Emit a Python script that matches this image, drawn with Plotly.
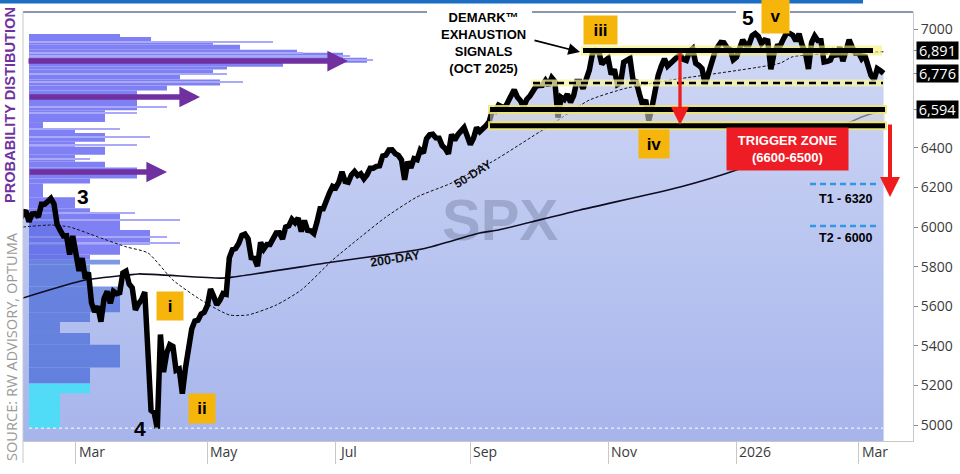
import plotly.graph_objects as go

# ---------------- DATA ----------------
price_dates = [
 "2025-02-04","2025-02-05","2025-02-06","2025-02-07","2025-02-10","2025-02-11","2025-02-12","2025-02-13","2025-02-14",
 "2025-02-18","2025-02-19","2025-02-20","2025-02-21","2025-02-24","2025-02-25","2025-02-26","2025-02-27","2025-02-28",
 "2025-03-03","2025-03-04","2025-03-05","2025-03-06","2025-03-07","2025-03-10","2025-03-11","2025-03-12","2025-03-13","2025-03-14",
 "2025-03-17","2025-03-18","2025-03-19","2025-03-20","2025-03-21","2025-03-24","2025-03-25","2025-03-26","2025-03-27","2025-03-28","2025-03-31",
 "2025-04-01","2025-04-02","2025-04-03","2025-04-04","2025-04-07","2025-04-08","2025-04-09","2025-04-10","2025-04-11","2025-04-14",
 "2025-04-15","2025-04-16","2025-04-17","2025-04-21","2025-04-22","2025-04-23","2025-04-24","2025-04-25","2025-04-28","2025-04-29","2025-04-30",
 "2025-05-01","2025-05-02","2025-05-05","2025-05-06","2025-05-07","2025-05-08","2025-05-09","2025-05-12","2025-05-13","2025-05-14",
 "2025-05-15","2025-05-16","2025-05-19","2025-05-20","2025-05-21","2025-05-22","2025-05-23","2025-05-27","2025-05-28","2025-05-29","2025-05-30",
 "2025-06-02","2025-06-03","2025-06-04","2025-06-05","2025-06-06","2025-06-09","2025-06-10","2025-06-11","2025-06-12","2025-06-13",
 "2025-06-16","2025-06-17","2025-06-18","2025-06-20","2025-06-23","2025-06-24","2025-06-25","2025-06-26","2025-06-27","2025-06-30",
 "2025-07-01","2025-07-02","2025-07-03","2025-07-07","2025-07-08","2025-07-09","2025-07-10","2025-07-11","2025-07-14","2025-07-15","2025-07-16",
 "2025-07-17","2025-07-18","2025-07-21","2025-07-22","2025-07-23","2025-07-24","2025-07-25","2025-07-28","2025-07-29","2025-07-30","2025-07-31",
 "2025-08-01","2025-08-04","2025-08-05","2025-08-06","2025-08-07","2025-08-08","2025-08-11","2025-08-12","2025-08-13","2025-08-14","2025-08-15",
 "2025-08-18","2025-08-19","2025-08-20","2025-08-21","2025-08-22","2025-08-25","2025-08-26","2025-08-27","2025-08-28","2025-08-29",
 "2025-09-02","2025-09-03","2025-09-04","2025-09-05","2025-09-08","2025-09-09","2025-09-10","2025-09-11","2025-09-12","2025-09-15","2025-09-16",
 "2025-09-17","2025-09-18","2025-09-19","2025-09-22","2025-09-23","2025-09-24","2025-09-25","2025-09-26","2025-09-29","2025-09-30",
 "2025-10-01","2025-10-02","2025-10-03","2025-10-06","2025-10-07","2025-10-08","2025-10-09","2025-10-10","2025-10-13","2025-10-14","2025-10-15",
 "2025-10-16","2025-10-17","2025-10-20","2025-10-21","2025-10-22","2025-10-23","2025-10-24","2025-10-27","2025-10-28","2025-10-29","2025-10-30","2025-10-31",
 "2025-11-03","2025-11-04","2025-11-05","2025-11-06","2025-11-07","2025-11-10","2025-11-11","2025-11-12","2025-11-13","2025-11-14",
 "2025-11-17","2025-11-18","2025-11-19","2025-11-20","2025-11-21","2025-11-24","2025-11-25","2025-11-26","2025-11-28",
 "2025-12-01","2025-12-02","2025-12-03","2025-12-04","2025-12-05","2025-12-08","2025-12-09","2025-12-10","2025-12-11","2025-12-12","2025-12-15",
 "2025-12-16","2025-12-17","2025-12-18","2025-12-19","2025-12-22","2025-12-23","2025-12-24","2025-12-26","2025-12-29","2025-12-30","2025-12-31",
 "2026-01-02","2026-01-05","2026-01-06","2026-01-07","2026-01-08","2026-01-09","2026-01-12","2026-01-13","2026-01-14","2026-01-15",
 "2026-01-16","2026-01-20","2026-01-21","2026-01-22","2026-01-23","2026-01-26","2026-01-27","2026-01-28","2026-01-29","2026-01-30",
 "2026-02-02","2026-02-03","2026-02-04","2026-02-05","2026-02-06","2026-02-09","2026-02-10","2026-02-11","2026-02-12","2026-02-13",
 "2026-02-17","2026-02-18","2026-02-19","2026-02-20","2026-02-23","2026-02-24","2026-02-25","2026-02-26","2026-02-27",
 "2026-03-02","2026-03-03","2026-03-04","2026-03-05","2026-03-06","2026-03-09","2026-03-10","2026-03-11","2026-03-12",
]
price_close = [
 6037,6061,6084,6026,6066,6068,6051,6115,6115,
 6129,6144,6117,6013,5983,5955,5956,5861,5955,
 5850,5778,5843,5739,5770,5615,5572,5599,5522,5639,
 5675,5615,5675,5663,5668,5768,5777,5712,5693,5581,5612,
 5633,5671,5397,5074,5062,4982,5457,5268,5363,5406,
 5397,5276,5283,5158,5288,5376,5485,5525,5529,5561,5569,
 5604,5687,5650,5607,5631,5664,5660,5844,5886,5892,
 5917,5958,5964,5941,5845,5842,5802,5922,5889,5912,5912,
 5936,5970,5971,5939,6000,6006,6039,6022,6045,5977,
 6033,5983,5981,5968,6025,6092,6092,6141,6173,6205,
 6198,6227,6279,6230,6226,6263,6280,6260,6269,6244,6264,
 6297,6297,6306,6309,6359,6363,6389,6390,6371,6362,6339,
 6238,6330,6299,6345,6340,6389,6374,6446,6466,6469,6450,
 6449,6411,6396,6370,6467,6439,6466,6481,6502,6460,
 6416,6448,6502,6482,6495,6512,6532,6587,6584,6615,6607,
 6600,6632,6664,6693,6657,6638,6605,6644,6661,6688,
 6711,6715,6716,6740,6715,6754,6735,6553,6655,6644,6671,
 6630,6664,6735,6735,6699,6738,6792,6875,6891,6890,6822,6840,
 6852,6771,6796,6720,6729,6832,6846,6851,6738,6734,
 6672,6617,6642,6538,6603,6705,6766,6813,6849,
 6813,6829,6850,6857,6870,6847,6841,6887,6901,6827,6816,
 6800,6721,6775,6835,6878,6910,6932,6930,6905,6896,6845,
 6858,6902,6945,6921,6921,6966,6977,6963,6927,6944,
 6940,6797,6876,6913,6916,6950,6979,6978,6969,6939,
 6976,6918,6883,6798,6932,6965,6942,6941,6833,6836,
 6843,6881,6862,6909,6838,6890,6946,6908,6879,
 6881,6850,6868,6810,6765,6745,6800,6790,6776,
]

ma50_dates = ["2025-02-05","2025-02-19","2025-02-27","2025-03-12","2025-03-25","2025-04-03","2025-04-15","2025-04-29",
              "2025-05-12","2025-05-20","2025-06-03","2025-06-13","2025-06-30","2025-07-14","2025-07-24","2025-08-07",
              "2025-08-22","2025-09-05","2025-09-11","2025-10-10","2025-10-24","2025-11-11","2025-12-02","2026-01-23",
              "2026-01-29","2026-03-12"]
ma50_vals = [6000,6010,6000,5950,5900,5869,5732,5631,5556,5556,5606,5682,5833,5950,6050,6152,
             6222,6300,6330,6540,6641,6702,6742,6828,6860,6885]

ma200_dates = ["2025-02-05","2025-03-06","2025-03-26","2025-03-31","2025-05-07","2025-05-13","2025-06-30","2025-08-11",
               "2025-09-05","2025-09-15","2025-10-21","2025-12-05","2026-01-02","2026-02-06","2026-03-03","2026-03-12"]
ma200_vals = [5641,5732,5758,5763,5742,5747,5823,5890,5970,5985,6086,6202,6288,6439,6556,6591]

# probability distribution (price-level histogram)
hist_top = [6975,6960,6935,6920,6895,6880,6855,6830,6810,6795,6770,6745,6715,6690,6590,6530,6500,6475,6430,6405,
            6365,6330,6300,6245,6220,6150,6095,6070,5985,5910,5860,5835,5810,5700,5570,5520,5465,5405,5290]
hist_bottom = [6960,6935,6920,6895,6880,6855,6830,6810,6795,6770,6745,6715,6690,6590,6530,6500,6475,6430,6405,6365,
               6330,6300,6245,6220,6150,6095,6070,5985,5910,5860,5835,5810,5700,5570,5520,5465,5405,5290,5210]
hist_len = [91,122,184,211,268,314,338,254,198,184,151,191,138,108,76,14,46,76,46,76,
            46,76,108,61,14,46,61,91,121,91,61,91,61,91,61,31,61,91,61]
hist_zone = ["U"] * 31 + ["M"] * 8
tail_top = [5210, 5160]
tail_bottom = [5160, 4985]
tail_len = [61, 31]
fine_price = [6934,6877,6864,6843,6773,6732,6606,6575,6495,6455,6415,6345,6280,6071,6035,5950,5920]
fine_len = [244,274,321,344,198,214,138,108,91,121,108,61,121,106,151,138,151]

tick_dates = ["2025-03-03","2025-05-01","2025-07-01","2025-09-02","2025-11-03","2026-01-02","2026-03-02"]
tick_text = ["Mar","May","Jul","Sep","Nov","2026","Mar"]
holidays = ["2025-02-17","2025-04-18","2025-05-26","2025-06-19","2025-07-04","2025-09-01","2025-11-27",
            "2025-12-25","2026-01-01","2026-01-19","2026-02-16"]
y_ticks = [5000,5200,5400,5600,5800,6000,6200,6400,7000]
level_boxes = [6891, 6776, 6594]
resistance = 6891
mid_level = 6727
zone_hi = 6594
zone_lo = 6512
low_mark = 4984
t1_line = 6217
t2_line = 6005

# ---------------- LAYOUT HELPERS ----------------
W, H = 960, 474
L, R, T, B = 23, 47, 12, 33
PW, PH = W - L - R, H - T - B


def px(x):
    return (x - L) / PW


def py(y):
    return (H - B - y) / PH


fig = go.Figure()

zone_colors = {"U": "#8080f5", "M": "#7d97e4"}
fig.add_trace(go.Bar(
    orientation="h", x=hist_len,
    y=[(a + b) / 2 for a, b in zip(hist_top, hist_bottom)],
    width=[a - b for a, b in zip(hist_top, hist_bottom)],
    marker=dict(color=[zone_colors[z] for z in hist_zone], line=dict(width=0)),
    xaxis="x", yaxis="y", hoverinfo="skip"))
fig.add_trace(go.Bar(
    orientation="h", x=fine_len, y=fine_price, width=6,
    marker=dict(color="#a9a9f7", line=dict(width=0)),
    xaxis="x", yaxis="y", hoverinfo="skip"))

# price area (translucent gradient above the histogram)
fig.add_trace(go.Scatter(
    x=price_dates, y=price_close, xaxis="x2", yaxis="y", mode="lines",
    line=dict(width=0, color="rgba(0,0,0,0)"), fill="tozeroy",
    fillgradient=dict(type="vertical",
                      colorscale=[[0, "rgba(70,100,215,0.48)"], [1, "rgba(70,100,215,0.25)"]],
                      start=4919, stop=7000),
    hoverinfo="skip"))

fig.add_trace(go.Scatter(
    x=["2025-09-15 12:00"], y=[6010], xaxis="x2", yaxis="y", mode="text", text=["SPX"],
    textfont=dict(size=58, color="rgba(105,115,150,0.38)", family="Liberation Sans", weight="bold"),
    textposition="middle center", hoverinfo="skip"))

fig.add_trace(go.Scatter(
    x=ma200_dates, y=ma200_vals, xaxis="x2", yaxis="y", mode="lines",
    line=dict(color="#0d0d1f", width=1.6, shape="spline", smoothing=0.6), hoverinfo="skip"))
fig.add_trace(go.Scatter(
    x=ma50_dates, y=ma50_vals, xaxis="x2", yaxis="y", mode="lines",
    line=dict(color="#111111", width=1, dash="3px,2px", shape="spline", smoothing=0.6), hoverinfo="skip"))
fig.add_trace(go.Scatter(
    x=price_dates, y=price_close, xaxis="x2", yaxis="y", mode="lines",
    line=dict(color="#000000", width=5.5), hoverinfo="skip"))

fig.add_trace(go.Bar(
    orientation="h", x=tail_len,
    y=[(a + b) / 2 for a, b in zip(tail_top, tail_bottom)],
    width=[a - b for a, b in zip(tail_top, tail_bottom)],
    marker=dict(color="#50dcf7", line=dict(width=0)),
    xaxis="x3", yaxis="y", hoverinfo="skip"))

# ---------------- SHAPES ----------------
shapes = []
shapes.append(dict(type="rect", xref="paper", yref="paper", x0=px(0), x1=px(863), y0=py(3.5), y1=py(0),
                   fillcolor="#1b6ec2", line=dict(width=0), layer="above"))
for a, b in [(23, 427), (532, 736), (790, 913)]:
    shapes.append(dict(type="line", xref="paper", yref="paper", x0=px(a), x1=px(b), y0=1, y1=1,
                       line=dict(color="#1e2a55", width=1), layer="above"))
shapes.append(dict(type="line", xref="paper", yref="paper", x0=0, x1=0, y0=py(463), y1=1,
                   line=dict(color="#c8c8c8", width=1), layer="above"))
shapes.append(dict(type="line", xref="paper", yref="y", x0=px(29), x1=px(883), y0=low_mark, y1=low_mark,
                   line=dict(color="white", width=1, dash="dot"), layer="above"))
shapes.append(dict(type="rect", xref="paper", yref="y", x0=px(490), x1=px(885), y0=zone_lo, y1=zone_hi,
                   fillcolor="rgba(215,215,212,0.55)", line=dict(width=0), layer="above"))
for lv in (zone_hi, zone_lo):
    shapes.append(dict(type="line", xref="paper", yref="y", x0=px(488), x1=px(887), y0=lv, y1=lv,
                       line=dict(color="rgba(240,232,110,0.85)", width=9), layer="above"))
    shapes.append(dict(type="line", xref="paper", yref="y", x0=px(490), x1=px(885), y0=lv, y1=lv,
                       line=dict(color="black", width=5), layer="above"))
shapes.append(dict(type="line", xref="paper", yref="y", x0=px(531), x1=px(884), y0=mid_level, y1=mid_level,
                   line=dict(color="rgba(250,245,160,0.75)", width=7), layer="above"))
shapes.append(dict(type="line", xref="paper", yref="y", x0=px(533), x1=px(883), y0=mid_level, y1=mid_level,
                   line=dict(color="black", width=2.5, dash="7px,5px"), layer="above"))
shapes.append(dict(type="line", xref="paper", yref="y", x0=px(581), x1=px(882), y0=resistance, y1=resistance,
                   line=dict(color="rgba(245,240,110,0.6)", width=10), layer="above"))
shapes.append(dict(type="line", xref="paper", yref="y", x0=px(583), x1=px(873), y0=resistance, y1=resistance,
                   line=dict(color="black", width=5), layer="above"))
for lv in (t1_line, t2_line):
    shapes.append(dict(type="line", xref="paper", yref="y", x0=px(810), x1=px(878), y0=lv, y1=lv,
                       line=dict(color="#3296e6", width=2.5, dash="6px,4px"), layer="above"))

# ---------------- ANNOTATIONS ----------------
ann = []
BOLD = "Liberation Sans"


def label(cx, cy, text, **kw):
    d = dict(xref="paper", yref="paper", x=px(cx), y=py(cy), text=text, showarrow=False,
             xanchor="center", yanchor="middle")
    d.update(kw)
    ann.append(d)


for d, t in zip(tick_dates, tick_text):
    ann.append(dict(xref="x2", yref="paper", x=d, y=py(452), text=t, showarrow=False, xanchor="left",
                    yanchor="middle", xshift=1, font=dict(family="Open Sans", size=14, color="#3a3a3a")))
for v in level_boxes:
    ann.append(dict(xref="paper", yref="y", x=px(916), y=v, text=f"{v:,}", showarrow=False, xanchor="left",
                    yanchor="middle", bgcolor="black", width=41, height=17, borderpad=0,
                    font=dict(family="Open Sans", size=14.5, color="white")))

label(10, 105, "<b>PROBABILITY DISTIBUTION</b>", textangle=-90,
      font=dict(family=BOLD, size=14.6, color="#7030a0"))
label(11, 347, "SOURCE: RW ADVISORY, OPTUMA", textangle=-90,
      font=dict(family="Open Sans", size=14.6, color="#9a9a9a"))

# purple arrows
for tail, tip, lv in [(27, 348, 6838), (28, 200, 6657), (28, 167, 6278)]:
    ann.append(dict(xref="paper", yref="y", x=px(tip), y=lv, ax=-(tip - tail), ay=0, text="",
                    showarrow=True, arrowhead=2, arrowsize=0.75, arrowwidth=5.5, arrowcolor="#7030a0",
                    standoff=0))
# red arrows
ann.append(dict(xref="paper", yref="paper", x=px(680), y=py(125), ax=0, ay=-73, text="", showarrow=True,
                arrowhead=2, arrowsize=1.1, arrowwidth=3.3, arrowcolor="#ee1c1c", standoff=0))
ann.append(dict(xref="paper", yref="paper", x=px(890), y=py(197), ax=0, ay=-74, text="", showarrow=True,
                arrowhead=2, arrowsize=1.0, arrowwidth=4, arrowcolor="#ee1c1c", standoff=0))
# DeMark text + arrow
label(483, 43, "<b>DEMARK™<br>EXHAUSTION<br>SIGNALS<br>(OCT 2025)</b>", align="center", bgcolor="white",
      borderpad=2, font=dict(family=BOLD, size=13, color="black"))
ann.append(dict(xref="paper", yref="paper", x=px(580), y=py(52), ax=-47, ay=-12, text="", showarrow=True,
                arrowhead=2, arrowsize=1.3, arrowwidth=1.8, arrowcolor="black", standoff=0))
# wave labels (orange boxes)
for txt, cx, cy, w, h in [("iii", 600, 30, 33, 28), ("v", 775.5, 16.5, 27, 33), ("iv", 654, 144, 30, 28),
                          ("i", 170, 306, 26, 28), ("ii", 202, 408.5, 26, 29)]:
    label(cx, cy, f"<b>{txt}</b>", bgcolor="#f5b50a", width=w, height=h, borderpad=0,
          font=dict(family=BOLD, size=17, color="black"))
for txt, cx, cy in [("3", 83, 196), ("4", 140, 428), ("5", 748, 18)]:
    label(cx, cy, f"<b>{txt}</b>", font=dict(family=BOLD, size=21, color="black"))
label(787.5, 149, "<b>TRIGGER ZONE<br>(6600-6500)</b>", bgcolor="#ee1c24", width=121, height=42, borderpad=0,
      font=dict(family=BOLD, size=13, color="white"))
label(846, 199, "<b>T1 - 6320</b>", font=dict(family=BOLD, size=12.5, color="black"))
label(846, 238, "<b>T2 - 6000</b>", font=dict(family=BOLD, size=12.5, color="black"))
label(473, 174, "<b>50-DAY</b>", textangle=-32, font=dict(family=BOLD, size=12, color="#111"))
label(395, 259, "<b>200-DAY</b>", textangle=-9, font=dict(family=BOLD, size=12.5, color="#111"))

fig.update_layout(
    width=W, height=H, margin=dict(l=L, r=R, t=T, b=B, autoexpand=False),
    paper_bgcolor="white", plot_bgcolor="white", showlegend=False, barmode="overlay",
    xaxis=dict(range=[-6, 884], visible=False, fixedrange=True, automargin=False),
    xaxis3=dict(range=[-6, 884], visible=False, overlaying="x", anchor="y", automargin=False),
    xaxis2=dict(type="date", overlaying="x", side="bottom", anchor="y",
                range=["2025-02-05 02:24", "2026-03-25 09:36"],
                rangebreaks=[dict(bounds=["sat", "mon"]), dict(values=holidays)],
                tickvals=tick_dates, showticklabels=False, ticks="outside", ticklen=22,
                tickcolor="#c8c8c8", showline=True, linecolor="#c8c8c8", showgrid=False, zeroline=False,
                automargin=False),
    yaxis=dict(side="right", range=[4919.2, 7085.9],
               tickvals=y_ticks + level_boxes, ticktext=[str(v) for v in y_ticks] + ["", "", ""],
               ticks="outside", ticklen=4, tickcolor="#888", showline=True, linecolor="#c8c8c8",
               showgrid=False, zeroline=False, automargin=False,
               tickfont=dict(family="Open Sans", size=14, color="#3a3a3a")),
    shapes=shapes, annotations=ann,
)

fig.write_html("out.html", config={"displayModeBar": False},
               post_script="document.body.style.margin='0';document.body.style.padding='0';")
